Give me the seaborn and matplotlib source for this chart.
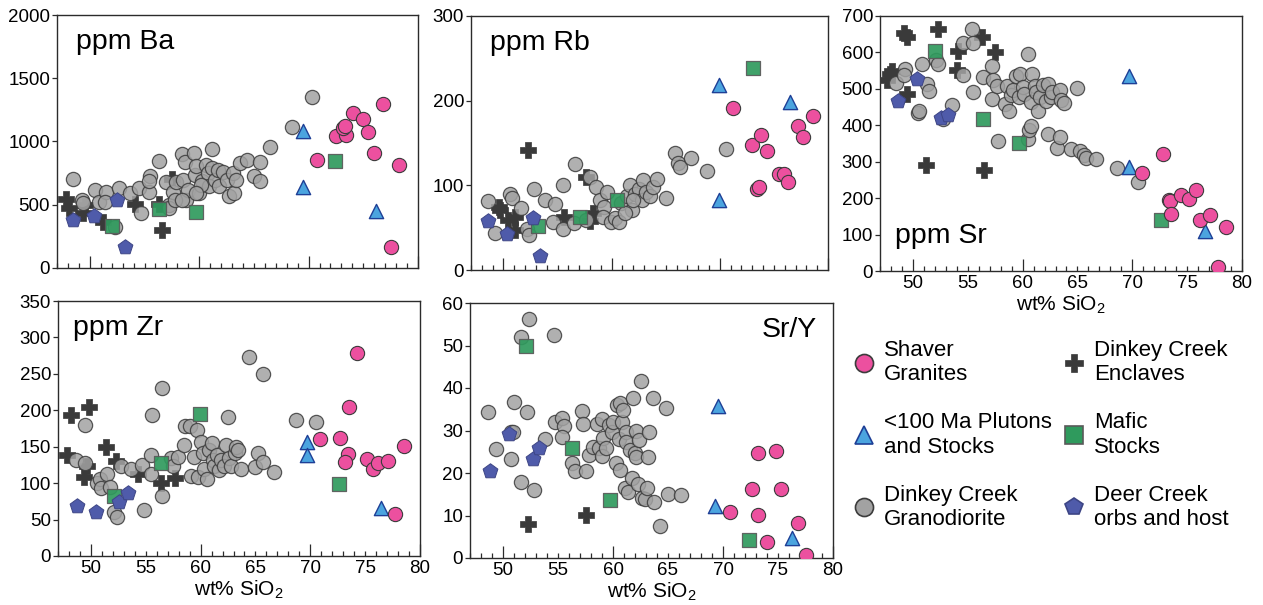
import matplotlib
matplotlib.use("Agg")
import matplotlib.pyplot as plt
import seaborn as sns
import pandas as pd
from matplotlib.ticker import MultipleLocator, FixedLocator, FuncFormatter
from matplotlib.lines import Line2D

# ---------------- data (wt% SiO2, value) ----------------
ba_shaver = [(70.8, 855), (72.5, 1045), (73.4, 1053), (73.1, 1110), (73.3, 1124), (74.1, 1224),
             (75.0, 1179), (75.4, 1079), (76.0, 913), (76.8, 1295), (78.3, 811), (77.5, 163)]
ba_plutons = [(69.5, 1084), (69.5, 640), (76.2, 447)]
ba_mafic = [(72.4, 847), (59.7, 440), (56.3, 463), (52.0, 329)]
ba_deer = [(48.5, 376), (50.4, 408), (52.5, 540), (53.2, 166)]
ba_encl = [(47.8, 545), (48.1, 474), (49.4, 434), (49.6, 500), (51.2, 361), (54.1, 508),
           (56.3, 508), (56.6, 297), (57.5, 705)]
ba_grano = [(48.5, 705), (49.3, 540), (49.4, 513), (50.5, 618), (50.8, 518), (51.5, 597), (51.4, 518),
            (52.7, 632), (52.3, 324), (53.7, 592), (54.5, 632), (54.7, 434), (55.4, 597), (55.5, 724),
            (55.4, 684), (56.3, 842), (57.0, 676), (57.2, 500), (57.2, 474), (57.6, 597), (57.9, 676),
            (58.4, 903), (58.7, 834), (58.5, 697), (58.8, 540), (59.0, 618), (59.5, 908), (59.6, 737),
            (59.7, 803), (60.0, 592), (60.3, 684), (60.6, 816), (60.8, 750), (61.2, 940), (61.2, 790),
            (60.9, 645), (61.4, 697), (61.7, 776), (61.8, 645), (62.2, 755), (62.5, 697), (62.7, 566),
            (63.1, 750), (63.2, 592), (63.4, 697), (63.7, 829), (64.4, 850), (65.0, 724), (65.6, 834),
            (65.6, 684), (66.5, 960), (68.5, 1118), (70.3, 1350), (57.8, 540), (58.4, 540),
            (60.2, 658), (59.7, 592)]

rb_shaver = [(71.2, 191), (73.0, 148), (73.8, 159), (74.4, 140), (73.4, 96), (73.6, 98),
             (75.5, 113), (75.9, 113), (76.3, 104), (77.2, 170), (77.7, 157), (78.6, 182)]
rb_plutons = [(69.9, 218), (69.9, 83), (76.5, 198)]
rb_mafic = [(73.1, 239), (60.5, 83), (57.1, 63), (53.2, 52)]
rb_deer = [(48.6, 58), (50.3, 43), (52.7, 62), (53.4, 16.5)]
rb_encl = [(49.6, 75), (49.7, 71), (50.4, 59), (51.1, 63), (51.1, 47), (52.3, 141.5),
           (55.6, 63), (57.6, 110), (58.0, 58), (58.3, 67)]
rb_grano = [(48.6, 81), (49.2, 44), (50.6, 90), (50.8, 85), (51.6, 73), (52.2, 49), (52.4, 41),
            (52.8, 96), (53.8, 83), (54.8, 78), (54.6, 57), (55.5, 100), (55.5, 48), (56.6, 125),
            (56.5, 55), (57.6, 59), (58.0, 110), (58.6, 98), (58.9, 83), (59.3, 75), (59.2, 63),
            (59.6, 92), (59.9, 57), (60.3, 61), (60.7, 57), (60.9, 79), (61.4, 87), (61.7, 100),
            (61.9, 71), (62.2, 90), (62.5, 96), (62.8, 83), (62.9, 106), (63.2, 92), (63.5, 87),
            (63.8, 98), (64.2, 108), (62.0, 83), (61.2, 67), (65.0, 85), (65.9, 138), (66.1, 126),
            (66.3, 122), (67.3, 132), (68.8, 117), (70.6, 143.5)]

sr_shaver = [(72.8, 322), (70.9, 268), (73.3, 196), (73.4, 193), (73.5, 157), (74.4, 208),
             (75.2, 199), (75.8, 222), (76.2, 141), (77.1, 155), (78.5, 120), (77.8, 10)]
sr_plutons = [(69.7, 534), (69.7, 286), (76.6, 111)]
sr_mafic = [(52.0, 603), (56.4, 417), (59.7, 351), (72.6, 139)]
sr_deer = [(48.6, 468), (50.4, 526), (52.6, 420), (53.2, 429)]
sr_encl = [(47.6, 523), (47.9, 542), (48.1, 548), (49.2, 652), (49.5, 643), (49.5, 486),
           (52.3, 663), (54.1, 604), (54.0, 553), (56.3, 641), (57.5, 601), (51.2, 290), (56.5, 277)]
sr_grano = [(48.5, 516), (49.3, 555), (49.2, 537), (50.5, 434), (50.6, 438), (50.8, 569), (51.3, 514),
            (51.5, 495), (52.1, 580), (52.3, 567), (52.7, 417), (53.6, 456), (54.6, 627), (54.6, 537),
            (55.4, 663), (55.5, 627), (55.5, 491), (56.4, 532), (57.2, 563), (57.3, 523), (57.2, 471),
            (57.7, 509), (57.8, 356), (58.4, 459), (58.6, 509), (58.8, 438), (58.9, 482), (59.1, 497),
            (59.4, 534), (59.7, 477), (59.8, 540), (60.0, 505), (60.1, 486), (60.5, 597), (60.5, 362),
            (60.6, 388), (60.8, 399), (60.9, 540), (60.8, 463), (61.1, 507), (61.2, 491), (61.4, 440),
            (61.6, 477), (61.9, 511), (62.1, 468), (62.3, 514), (62.3, 376), (62.6, 477), (62.7, 491),
            (63.1, 339), (63.4, 369), (63.4, 496), (63.5, 470), (63.8, 461), (64.4, 336), (65.0, 502),
            (65.2, 330), (65.6, 319), (65.8, 311), (66.7, 307), (68.6, 282), (70.5, 244)]

zr_shaver = [(70.9, 161), (72.7, 162), (73.5, 205), (73.4, 140), (73.2, 129), (74.3, 278),
             (75.2, 133), (75.7, 120), (76.2, 127), (77.1, 131), (78.5, 151), (77.7, 57)]
zr_plutons = [(69.7, 156), (69.7, 138), (76.4, 66)]
zr_mafic = [(59.9, 195.5), (56.4, 128), (52.1, 83), (72.6, 99)]
zr_deer = [(48.7, 68), (50.5, 60), (52.6, 74), (53.4, 87)]
zr_encl = [(47.8, 138), (48.2, 193), (49.8, 204), (51.4, 150), (49.4, 108), (49.6, 123),
           (52.3, 130), (54.3, 113), (56.4, 100), (57.7, 107)]
zr_grano = [(48.6, 132), (49.5, 180), (49.5, 127), (50.6, 100), (50.8, 106), (50.9, 94), (51.5, 113),
            (51.7, 95), (52.1, 60), (52.4, 54), (52.7, 123), (53.7, 119), (54.7, 125), (54.8, 63),
            (55.5, 138), (55.5, 113), (55.6, 193), (56.5, 230), (56.5, 82), (57.3, 134), (57.5, 123),
            (57.9, 136), (58.5, 153), (58.6, 178), (59.0, 178), (59.1, 110), (59.4, 136), (59.7, 173),
            (59.8, 109), (60.0, 157), (60.2, 141), (60.3, 120), (60.6, 106), (60.8, 146), (61.0, 155),
            (61.1, 132), (61.2, 123), (61.5, 139), (61.7, 118), (61.9, 132), (62.1, 123), (62.3, 153),
            (62.5, 191), (62.6, 134), (62.8, 123), (63.1, 141), (63.2, 150), (63.4, 146), (63.7, 120),
            (64.4, 273), (65.2, 142), (65.0, 122), (65.7, 250), (65.7, 129), (66.7, 115), (68.7, 187),
            (70.5, 184)]

sry_shaver = [(70.6, 10.9), (72.6, 16.2), (73.2, 24.6), (73.2, 10.1), (74.0, 3.8), (74.8, 25.2),
              (75.3, 16.2), (76.8, 8.3), (77.5, 0.8)]
sry_plutons = [(69.5, 35.8), (69.3, 12.2), (76.3, 4.8)]
sry_mafic = [(52.1, 50.0), (56.3, 26.0), (59.7, 13.6), (72.4, 4.3)]
sry_deer = [(48.8, 20.4), (50.5, 29.2), (52.7, 23.4), (53.3, 26.0)]
sry_encl = [(52.3, 7.9), (57.5, 10.1)]
sry_grano = [(48.6, 34.3), (49.4, 25.6), (50.7, 29.6), (50.9, 29.7), (50.7, 23.4), (51.0, 36.6),
             (51.6, 52.0), (51.6, 17.9), (52.2, 34.4), (52.4, 56.3), (52.8, 16.1), (53.8, 27.9),
             (54.6, 52.5), (54.7, 32.1), (55.4, 33.0), (55.5, 31.1), (55.4, 28.5), (56.3, 22.3),
             (56.5, 20.4), (57.2, 34.6), (57.3, 31.5), (57.5, 20.5), (57.8, 24.2), (58.2, 26.2),
             (58.5, 31.5), (58.7, 25.8), (59.0, 32.7), (59.0, 24.0), (59.1, 28.2), (59.4, 25.8),
             (59.6, 31.3), (59.9, 29.7), (60.0, 32.1), (60.3, 22.3), (60.4, 36.0), (60.5, 28.0),
             (60.6, 20.7), (60.6, 36.4), (60.8, 32.1), (60.9, 34.8), (61.1, 16.5), (61.2, 29.7),
             (61.2, 27.4), (61.4, 15.6), (61.5, 25.4), (61.7, 18.9), (61.8, 37.6), (62.0, 24.6),
             (62.1, 29.9), (62.1, 23.7), (62.3, 17.5), (62.4, 27.8), (62.5, 41.7), (62.6, 14.2),
             (62.9, 13.8), (63.1, 16.4), (63.2, 23.8), (63.3, 29.7), (63.6, 37.6), (63.7, 13.2),
             (64.3, 7.5), (64.8, 35.2), (65.0, 15.0), (66.2, 14.8)]

group_names = ["Dinkey Creek Enclaves", "Dinkey Creek Granodiorite", "Mafic Stocks",
               "Deer Creek orbs and host", "<100 Ma Plutons and Stocks", "Shaver Granites"]
legend_labels = {"Shaver Granites": "Shaver\nGranites",
                 "<100 Ma Plutons and Stocks": "<100 Ma Plutons\nand Stocks",
                 "Dinkey Creek Granodiorite": "Dinkey Creek\nGranodiorite",
                 "Dinkey Creek Enclaves": "Dinkey Creek\nEnclaves",
                 "Mafic Stocks": "Mafic\nStocks",
                 "Deer Creek orbs and host": "Deer Creek\norbs and host"}

# ---------------- styles ----------------
STY = {
    "Dinkey Creek Enclaves": dict(marker="P", fc="#3a3a3a", ec="#3a3a3a", s=120, alpha=1.0, lw=0.5),
    "Dinkey Creek Granodiorite": dict(marker="o", fc="#a2a2a2", ec="#3c3c3c", s=105, alpha=0.85, lw=0.9),
    "Mafic Stocks": dict(marker="s", fc="#2f9a5d", ec="#5a5a5a", s=90, alpha=0.92, lw=0.9),
    "Deer Creek orbs and host": dict(marker="p", fc="#4f5baa", ec="#3d4585", s=125, alpha=1.0, lw=0.7),
    "<100 Ma Plutons and Stocks": dict(marker="^", fc="#4ba4df", ec="#1e3f96", s=105, alpha=1.0, lw=1.0),
    "Shaver Granites": dict(marker="o", fc="#ec509f", ec="#3c3c3c", s=105, alpha=1.0, lw=0.8),
}

sns.set_theme(style="white")
plt.rcParams["font.family"] = ["Liberation Sans", "DejaVu Sans"]
plt.rcParams["mathtext.fontset"] = "custom"
plt.rcParams["mathtext.rm"] = "Liberation Sans"
plt.rcParams["mathtext.it"] = "Liberation Sans:italic"
plt.rcParams["axes.edgecolor"] = "#2b2b2b"
plt.rcParams["axes.linewidth"] = 1.0
plt.rcParams["text.color"] = "black"
plt.rcParams["axes.labelcolor"] = "black"

W, H = 1263, 605
fig = plt.figure(figsize=(W / 100, H / 100), dpi=100)


def make_ax(l, r, t, b):
    return fig.add_axes([l / W, 1 - b / H, (r - l) / W, (b - t) / H])


def frame(groups):
    rows = []
    for name, pts in zip(group_names, groups):
        for x, y in pts:
            rows.append({"SiO2": x, "val": y, "group": name})
    return pd.DataFrame(rows)


def panel(ax, groups, ymax, ystep, title, tpos, tha, tva, xlabels):
    df = frame(groups)
    for name in group_names:
        st = STY[name]
        sub = df[df["group"] == name]
        sns.scatterplot(data=sub, x="SiO2", y="val", ax=ax, marker=st["marker"], color=st["fc"],
                        edgecolor=st["ec"], s=st["s"], alpha=st["alpha"], linewidth=st["lw"],
                        legend=False, zorder=3)
    ax.set_xlim(47, 80)
    ax.set_ylim(0, ymax)
    ax.yaxis.set_major_locator(MultipleLocator(ystep))
    ax.xaxis.set_major_locator(FixedLocator([50, 60, 70, 80]))
    ax.xaxis.set_minor_locator(MultipleLocator(1))
    ax.tick_params(axis="x", which="major", direction="in", length=8.5, width=0.9,
                   bottom=True, colors="#2b2b2b", labelcolor="black", labelsize=13.5, pad=3)
    ax.tick_params(axis="x", which="minor", direction="in", length=3.8, width=0.9,
                   bottom=True, colors="#2b2b2b", labelcolor="black", labelsize=13.5, pad=3)
    ax.tick_params(axis="y", which="major", direction="out", length=3.5, width=0.9,
                   left=True, colors="#2b2b2b", labelcolor="black", labelsize=13.5, pad=1.5)
    if xlabels:
        ax.xaxis.set_major_formatter(FuncFormatter(lambda v, p: f"{v:.0f}"))
        ax.xaxis.set_minor_formatter(FuncFormatter(
            lambda v, p: f"{v:.0f}" if round(v) % 10 == 5 else ""))
        ax.set_xlabel(r"wt% $\mathregular{SiO_2}$", fontsize=15, labelpad=1, color="black")
    else:
        ax.tick_params(axis="x", which="both", labelbottom=False)
        ax.set_xlabel("")
    ax.set_ylabel("")
    ax.text(tpos[0], tpos[1], title, transform=ax.transAxes, fontsize=20.5,
            ha=tha, va=tva, color="black")
    for sp in ax.spines.values():
        sp.set_visible(True)
        sp.set_color("#2b2b2b")


ax_ba = make_ax(57, 418, 15, 268)
ax_rb = make_ax(471, 828, 16, 270)
ax_sr = make_ax(880, 1242, 16, 271)
ax_zr = make_ax(58, 420, 301, 556)
ax_sy = make_ax(470, 833, 303, 558)

panel(ax_ba, [ba_encl, ba_grano, ba_mafic, ba_deer, ba_plutons, ba_shaver],
      2000, 500, "ppm Ba", (0.053, 0.945), "left", "top", False)
panel(ax_rb, [rb_encl, rb_grano, rb_mafic, rb_deer, rb_plutons, rb_shaver],
      300, 100, "ppm Rb", (0.053, 0.945), "left", "top", False)
panel(ax_sr, [sr_encl, sr_grano, sr_mafic, sr_deer, sr_plutons, sr_shaver],
      700, 100, "ppm Sr", (0.041, 0.11), "left", "baseline", True)
panel(ax_zr, [zr_encl, zr_grano, zr_mafic, zr_deer, zr_plutons, zr_shaver],
      350, 50, "ppm Zr", (0.041, 0.945), "left", "top", True)
panel(ax_sy, [sry_encl, sry_grano, sry_mafic, sry_deer, sry_plutons, sry_shaver],
      60, 10, "Sr/Y", (0.956, 0.945), "right", "top", True)

# ---------------- legend ----------------
legend_order = ["Shaver Granites", "<100 Ma Plutons and Stocks", "Dinkey Creek Granodiorite",
                "Dinkey Creek Enclaves", "Mafic Stocks", "Deer Creek orbs and host"]
handles = []
for name in legend_order:
    st = STY[name]
    handles.append(Line2D([], [], linestyle="None", marker=st["marker"], markersize=13,
                          markerfacecolor=st["fc"], markeredgecolor=st["ec"],
                          markeredgewidth=1.2 if st["marker"] != "P" else 0.5))
leg = fig.legend(handles, [legend_labels[n] for n in legend_order], ncol=2,
                 loc="upper left", bbox_to_anchor=(853 / W, 1 - 340 / H), frameon=False,
                 fontsize=16, handlelength=1.0, handletextpad=0.4, columnspacing=0.5,
                 labelspacing=1.22, borderpad=0, borderaxespad=0)
for t in leg.get_texts():
    t.set_color("black")

fig.savefig("out.png", dpi=100)
